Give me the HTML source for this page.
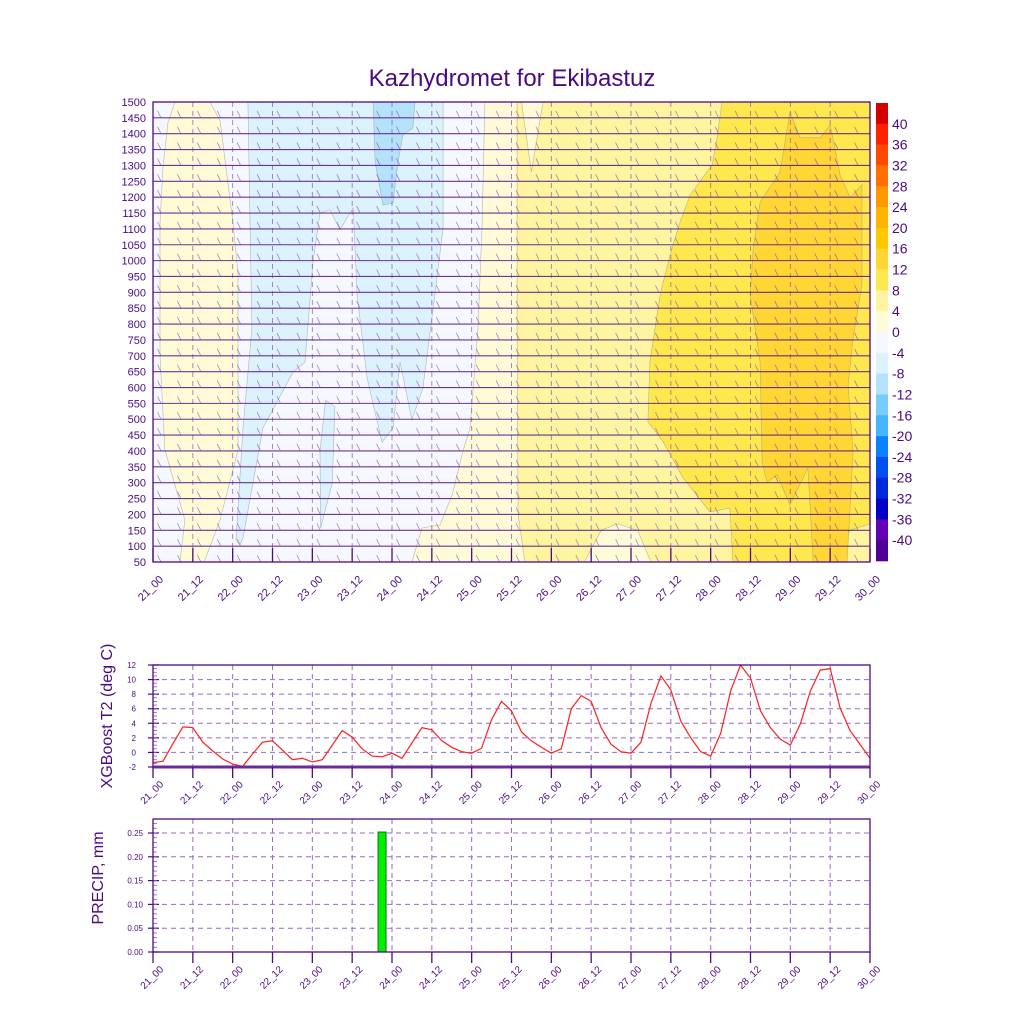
<!DOCTYPE html>
<html><head><meta charset="utf-8">
<style>
html,body{margin:0;padding:0;background:#fff;}
svg{display:block;font-family:"Liberation Sans",sans-serif;}
</style></head>
<body>
<svg id="root" width="1024" height="1024" viewBox="0 0 1024 1024">
<rect width="1024" height="1024" fill="#fff"/>
<text x="512" y="86" text-anchor="middle" font-size="24" fill="#4b0a84">Kazhydromet for Ekibastuz</text>
<g id="contour"></g>
<g id="colorbar"></g>
<g id="tpanel"></g>
<g id="ppanel"></g>
</svg>
<script>
// ---- data ----
const timeLabels = ["21_00","21_12","22_00","22_12","23_00","23_12","24_00","24_12","25_00","25_12","26_00","26_12","27_00","27_12","28_00","28_12","29_00","29_12","30_00"];
const heightTicks = [1500,1450,1400,1350,1300,1250,1200,1150,1100,1050,1000,950,900,850,800,750,700,650,600,550,500,450,400,350,300,250,200,150,100,50];
const cbLabels = [40,36,32,28,24,20,16,12,8,4,0,-4,-8,-12,-16,-20,-24,-28,-32,-36,-40];
const cbColors = ["#d20000","#ff2000","#ff4800","#ff7000","#ff9800","#ffb400","#ffc800","#ffd633","#ffe84d","#fff5a0","#fffbd6","#f5f9ff","#dcf2fd","#b4e2fa","#78ccfa","#46b4fa","#0a82ff","#0050f0","#0028dc","#0000c8","#6400b4","#500096"];
// contour regions: [hour, height] pairs, colour index into cbColors
const regionLevels = [10, 12, 12, 13, 10, 9, 8, 7];
const regionPolys = [
 [[6.6,1500],[4.5,1434],[3,1295],[2.1,1119],[2.1,700],[3.6,403],[9.6,183],[8.1,50],[15.4,50],[20.2,183],[25.6,403],[25.6,961],[24.1,1119],[20.2,1440],[17.2,1500]],
 [[28.6,1500],[87.4,1500],[87.4,1103],[84.4,851],[81.3,598],[78.0,498],[74.4,680],[72.3,472],[69.0,428],[64.5,630],[61.5,892],[60.3,1166],[56.3,1097],[53.3,1160],[50.3,1150],[48.2,996],[45.8,680],[42.2,649],[33.1,472],[27.1,126],[26.2,104],[25.0,120],[27.1,472],[29.8,788]],
 [[52,560],[54.8,540],[54,300],[50.5,157],[50.3,400]],
 [[66.3,1500],[78.9,1500],[78.3,1418],[75.3,1396],[73.8,1311],[72.3,1182],[69.3,1175],[66.9,1311]],
 [[100,1500],[216,1500],[216,50],[78,50],[81,157],[86.5,167],[90.1,261],[93.4,400],[95.5,472],[97.9,788],[99.1,1103]],
 [[109.7,1500],[111,1500],[114,1279],[117.5,1500],[216,1500],[216,50],[150,50],[146,150],[140,170],[135,150],[130,50],[112,50],[110,200],[109.7,800]],
 [[171.4,1500],[216,1500],[216,170],[210,150],[205,50],[174.7,50],[173.8,220],[167.8,208],[159.7,315],[153.7,429],[149.1,492],[149.7,681],[152.8,893],[155.8,1019],[158.8,1122],[161.8,1207],[168.4,1301],[169.9,1386]],
 [[191.9,1468],[194.9,1387],[201,1387],[204,1428],[207,1270],[210,1198],[213.6,1239],[213.6,924],[210.9,757],[209.4,608],[210.9,397],[209.1,50],[198.9,50],[197.3,346],[191.9,230],[188,324],[185,302],[183.5,365],[182.9,680],[179.9,891],[180.8,1040],[182.9,1184],[188.9,1279]]
];
// XGBoost T2 every 3h from 21_00
const t2Values = [-1.4,-1.2,1.2,3.5,3.4,1.4,0.2,-0.9,-1.6,-1.9,-0.2,1.4,1.6,0.3,-1.0,-0.8,-1.3,-1.0,1.0,3.0,2.1,0.5,-0.5,-0.6,-0.1,-0.8,1.3,3.4,3.1,1.6,0.7,0.1,-0.1,0.6,4.5,7.0,5.7,2.8,1.6,0.7,-0.1,0.5,6.0,7.8,7.0,3.4,1.1,0.1,-0.1,1.4,6.7,10.5,8.6,4.3,2.0,0.1,-0.5,2.6,8.4,12.0,10.2,5.7,3.4,1.8,1.0,3.9,8.4,11.3,11.5,6.1,3.0,1.1,-0.8];
const t2Ticks = [12,10,8,6,4,2,0,-2];
const precipHours = [69];
const precipValues = [0.252];
const precipTicks = [0.25,0.20,0.15,0.10,0.05,0.00];

const NS="http://www.w3.org/2000/svg";
function mk(tag, attrs, parent){const e=document.createElementNS(NS,tag);for(const k in attrs)e.setAttribute(k,attrs[k]);parent.appendChild(e);return e;}
const PUR="#4b0a84";
const X0=153, X1=870;
const xT = h => X0 + h*(X1-X0)/216;
const cTop=102, cBot=562;
const yH = h => cBot - (h-50)*(cBot-cTop)/1450;

const C=document.getElementById('contour');
let r=mk('rect',{x:X0,y:cTop,width:X1-X0,height:cBot-cTop,fill:cbColors[11]},C);


regionPolys.forEach((poly,i)=>{
  const p=mk('polygon',{points:poly.map(q=>xT(q[0]).toFixed(1)+','+yH(q[1]).toFixed(1)).join(' '),fill:cbColors[regionLevels[i]],stroke:'#9a9a8a','stroke-width':0.6,'stroke-opacity':0.7},C);
  
  
});
for(let i=1;i<18;i++){
  const l=mk('line',{x1:xT(i*12),x2:xT(i*12),y1:cTop,y2:cBot,stroke:'#8a5ab4','stroke-width':0.9,'stroke-dasharray':'5,4','stroke-opacity':0.8},C);
  
  
}
heightTicks.forEach(h=>{
  if(h>=1500) return;
  const y=yH(h);
  const l=mk('line',{x1:X0,x2:X1,y1:y,y2:y,stroke:'#5a1e8c','stroke-width':1.1,'stroke-opacity':0.9},C);
  
  
  for(let t=0;t<=213;t+=6){
    const x=xT(t)+8;
    const f=mk('line',{x1:x-3.5,y1:y-7,x2:x,y2:y,stroke:'#7a4aa8','stroke-width':0.7,'stroke-opacity':0.75},C);
    
    
  }
});
r=mk('rect',{x:X0,y:cTop,width:X1-X0,height:cBot-cTop,fill:'none',stroke:PUR,'stroke-width':1.3},C);


heightTicks.forEach(h=>{
  const t=mk('text',{x:146,y:yH(h)+4,'text-anchor':'end','font-size':11,fill:PUR},C);
  t.textContent=h;
  
  
});
function xAxisLabels(g,y0,fs,up,down){
  timeLabels.forEach((s,i)=>{
    const x=xT(i*12);
    const tk=mk('line',{x1:x,x2:x,y1:y0-up,y2:y0+down,stroke:PUR,'stroke-width':1.3},g);
    
    
    const t=mk('text',{x:x+11,y:y0+18,'text-anchor':'end','font-size':fs,fill:PUR,transform:`rotate(-45 ${x+11} ${y0+18})`},g);
    t.textContent=s;
    
    
  });
}
xAxisLabels(C,cBot,11,14,0);

const CB=document.getElementById('colorbar');
const cbT=103, cbB=561, cbH=(cbB-cbT)/cbColors.length;
cbColors.forEach((c,i)=>{
  const b=mk('rect',{x:876,y:cbT+i*cbH,width:12,height:cbH+0.3,fill:c},CB);
  
  
});
cbLabels.forEach((v,i)=>{
  const t=mk('text',{x:892,y:cbT+(i+1)*cbH+5,'font-size':14,fill:PUR},CB);
  t.textContent=v;
  
  
});

const T=document.getElementById('tpanel');
const tTop=665, tBot=767;
const yT = v => tBot - (v+2)*(tBot-tTop)/14;
t2Ticks.forEach(v=>{
  if(v>-2 && v<12){
  const g=mk('line',{x1:X0,x2:X1,y1:yT(v),y2:yT(v),stroke:'#9a6ac4','stroke-width':1,'stroke-dasharray':'5,4'},T);
  
  }
  const tk=mk('line',{x1:X0-5,x2:X0+6,y1:yT(v),y2:yT(v),stroke:PUR,'stroke-width':1.2},T);
  
  
  const t=mk('text',{x:136,y:yT(v)+3,'text-anchor':'end','font-size':8,fill:PUR},T);
  t.textContent=v;
  
  
});
for(let v=-2;v<=12;v+=0.5){const m=mk('line',{x1:X0,x2:X0+4,y1:yT(v),y2:yT(v),stroke:'#8a5ab4','stroke-width':0.8},T);}
for(let i=1;i<18;i++){
  const l=mk('line',{x1:xT(i*12),x2:xT(i*12),y1:tTop,y2:tBot,stroke:'#9a6ac4','stroke-width':1,'stroke-dasharray':'5,4'},T);
  
  
}
const tl=mk('polyline',{points:t2Values.map((v,i)=>xT(i*3).toFixed(1)+','+yT(v).toFixed(1)).join(' '),fill:'none',stroke:'#ff2020','stroke-width':1.2},T);


r=mk('rect',{x:X0,y:tTop,width:X1-X0,height:tBot-tTop,fill:'none',stroke:PUR,'stroke-width':1.3},T);


r=mk('line',{x1:X0,x2:X1,y1:tBot,y2:tBot,stroke:'#6a2c9a','stroke-width':3},T);


xAxisLabels(T,tBot,10,0,11);
let yt=mk('text',{x:112,y:716,'text-anchor':'middle','font-size':16,fill:PUR,transform:'rotate(-90 112 716)'},T);
yt.textContent='XGBoost T2 (deg C)';



const P=document.getElementById('ppanel');
const pTop=819, pBot=952;
const yP = v => pBot - v*476;
precipTicks.forEach(v=>{
  if(v>0){
  const g=mk('line',{x1:X0,x2:X1,y1:yP(v),y2:yP(v),stroke:'#9a6ac4','stroke-width':1,'stroke-dasharray':'5,4'},P);
  
  }
  const tk=mk('line',{x1:X0-5,x2:X0+6,y1:yP(v),y2:yP(v),stroke:PUR,'stroke-width':1.2},P);
  
  
  const t=mk('text',{x:143,y:yP(v)+3,'text-anchor':'end','font-size':8,fill:PUR},P);
  t.textContent=v.toFixed(2);
  
  
});
for(let v=0;v<=0.275;v+=0.01){const m=mk('line',{x1:X0,x2:X0+4,y1:yP(v),y2:yP(v),stroke:'#8a5ab4','stroke-width':0.8},P);}
for(let i=1;i<18;i++){
  const l=mk('line',{x1:xT(i*12),x2:xT(i*12),y1:pTop,y2:pBot,stroke:'#9a6ac4','stroke-width':1,'stroke-dasharray':'5,4'},P);
  
  
}
precipValues.forEach((v,i)=>{
  const x=xT(precipHours[i]);
  const b=mk('rect',{x:x-4,y:yP(v),width:8,height:pBot-yP(v),fill:'#00f000',stroke:'#1a6a1a','stroke-width':1},P);
  
  
});
r=mk('rect',{x:X0,y:pTop,width:X1-X0,height:pBot-pTop,fill:'none',stroke:PUR,'stroke-width':1.3},P);


xAxisLabels(P,pBot,10,0,11);
yt=mk('text',{x:103,y:878,'text-anchor':'middle','font-size':16,fill:PUR,transform:'rotate(-90 103 878)'},P);
yt.textContent='PRECIP, mm';


</script>
</body></html>
